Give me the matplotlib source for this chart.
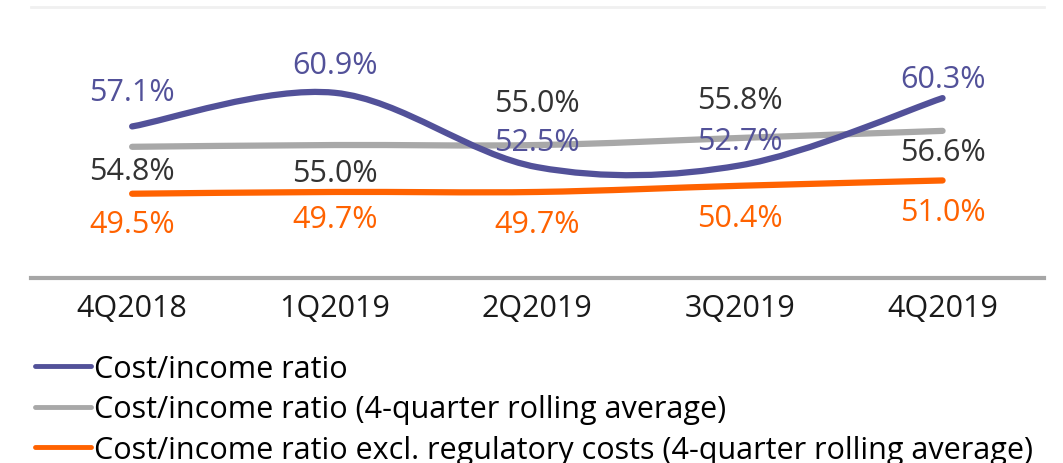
import numpy as np
import matplotlib
matplotlib.use('Agg')
import matplotlib.pyplot as plt
from matplotlib.path import Path
from matplotlib.patches import PathPatch
from matplotlib.lines import Line2D

plt.rcParams['font.family'] = ['Open Sans', 'DejaVu Sans']

quarters = ['4Q2018', '1Q2019', '2Q2019', '3Q2019', '4Q2019']
cost_income = [57.1, 60.9, 52.5, 52.7, 60.3]
rolling_avg = [54.8, 55.0, 55.0, 55.8, 56.6]
rolling_excl_reg = [49.5, 49.7, 49.7, 50.4, 51.0]

names = ['Cost/income ratio',
         'Cost/income ratio (4-quarter rolling average)',
         'Cost/income ratio excl. regulatory costs (4-quarter rolling average)']
colors = ['#525199', '#a8a8a8', '#ff6200']
# label offsets in points (positive = above the point)
offsets = [[25, 20, 18, 17.5, 14],
           [-17.5, -20, 30.5, 27, -15.5],
           [-22, -19.5, -23, -23.5, -23]]
label_colors = ['#525199', '#333333', '#ff6200']


def smooth_path(x, y, t=1 / 6):
    # excel-like smoothed line as cubic bezier segments
    pts = np.column_stack([x, y]).astype(float)
    n = len(pts)
    verts = [pts[0]]
    codes = [Path.MOVETO]
    for i in range(n - 1):
        p0 = pts[max(i - 1, 0)]
        p1 = pts[i]
        p2 = pts[i + 1]
        p3 = pts[min(i + 2, n - 1)]
        c1 = p1 + (p2 - p0) * t
        c2 = p2 - (p3 - p1) * t
        verts += [c1, c2, p2]
        codes += [Path.CURVE4] * 3
    return Path(verts, codes)


fig = plt.figure(figsize=(10.63, 4.64), dpi=100)
ax = fig.add_axes([0.029, 0.399, 0.953, 0.584])

x = np.arange(len(quarters))
series = [cost_income, rolling_avg, rolling_excl_reg]
for vals, c in zip(series[::-1], colors[::-1]):
    patch = PathPatch(smooth_path(x, vals), facecolor='none', edgecolor=c,
                      lw=4.5, capstyle='round')
    ax.add_patch(patch)

for k, vals in enumerate(series):
    for i, v in enumerate(vals):
        ax.annotate('%.1f%%' % v, (x[i], v), xytext=(0, offsets[k][i]),
                    textcoords='offset points', ha='center', va='center',
                    fontsize=22, color=label_colors[k])

ax.set_xlim(-0.5, len(quarters) - 0.5)
ax.set_ylim(40, 70.6)
ax.set_xticks(x)
ax.set_xticklabels(quarters, fontsize=22, color='#1a1a1a')
ax.set_yticks([])
ax.tick_params(axis='x', length=0, pad=11)
for s in ['right', 'left']:
    ax.spines[s].set_visible(False)
ax.spines['top'].set_color('#f0f0f0')
ax.spines['top'].set_linewidth(2)
ax.spines['bottom'].set_color('#a6a6a6')
ax.spines['bottom'].set_linewidth(3)

handles = [Line2D([], [], color=c, lw=3.5, solid_capstyle='round') for c in colors]
fig.legend(handles, names, loc='upper left', bbox_to_anchor=(0.033, 0.235),
           frameon=False, fontsize=22, handlelength=1.83, handletextpad=0.1,
           labelspacing=0.34, borderpad=0, borderaxespad=0)

fig.savefig('out.png', dpi=100)
